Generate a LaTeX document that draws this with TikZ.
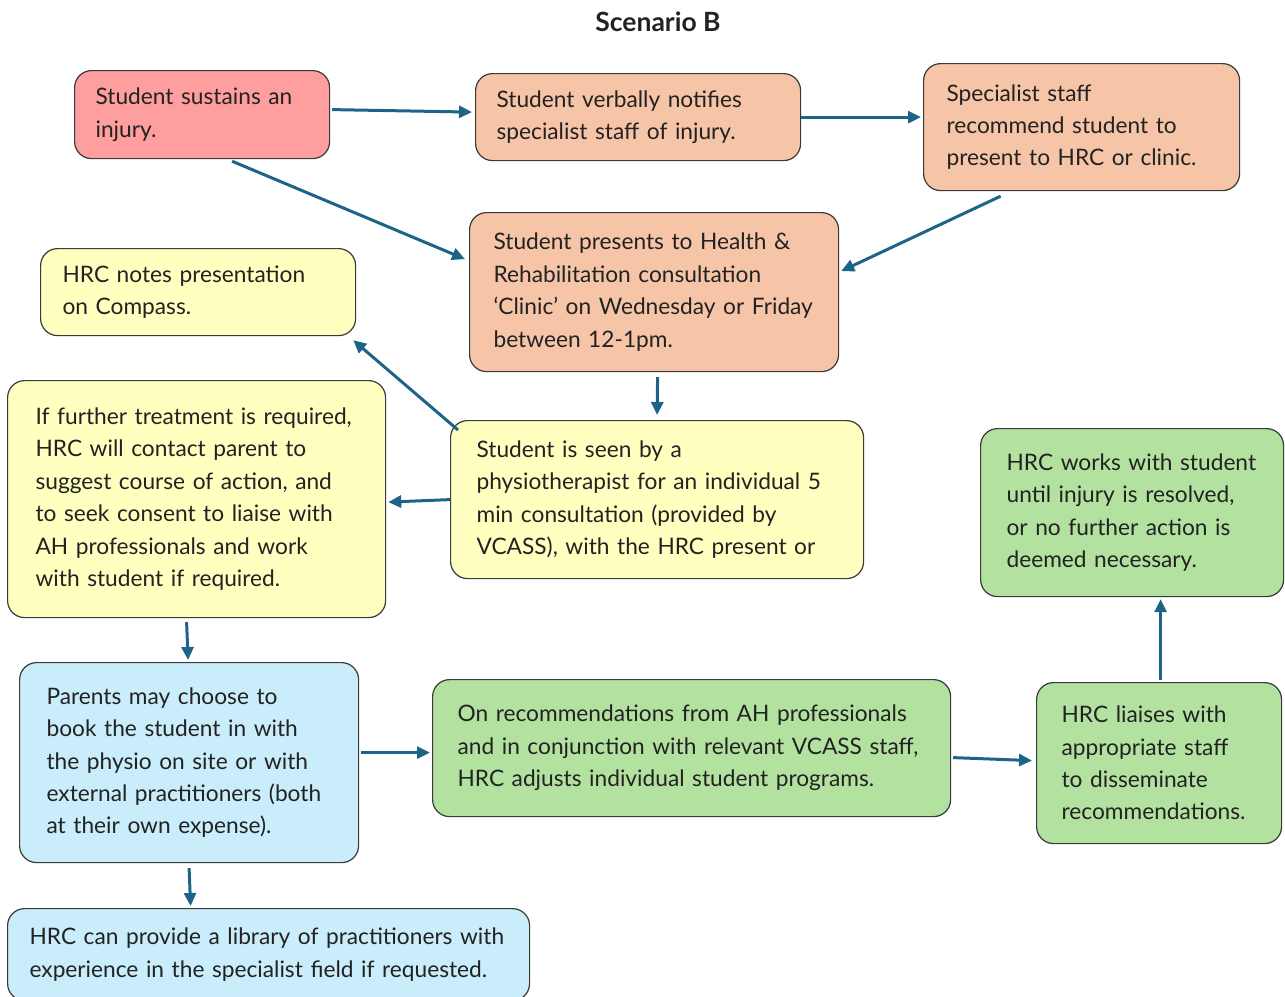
\documentclass[tikz,border=0pt]{standalone}
\usepackage{fontspec}
\setmainfont{Lato}
\usetikzlibrary{arrows.meta}
\definecolor{cred}{HTML}{FF9E9E}
\definecolor{corange}{HTML}{F6C5A7}
\definecolor{cyellow}{HTML}{FFFFC0}
\definecolor{cgreen}{HTML}{B3E2A0}
\definecolor{cblue}{HTML}{C9EDFB}
\definecolor{carrow}{HTML}{1D6488}
\definecolor{cborder}{HTML}{3A3A3A}
\definecolor{ctext}{HTML}{222222}
\tikzset{
  box/.style={draw=cborder, line width=1.2pt, rounded corners=17pt, anchor=north west,
    align=left, text=ctext, inner ysep=0pt,
    font=\fontsize{22.7}{32.4}\selectfont},
  conn/.style={draw=carrow, line width=3pt, -{Triangle[length=13pt,width=12pt]}}
}
\newcommand{\bx}[8]{% name, color, x, y, w, h, pad, text
  \node[box, fill=#2, minimum width=#5pt, minimum height=#6pt, inner xsep=#7pt,
        text width=\dimexpr #5pt - 2\dimexpr #7pt\relax\relax] (#1) at (#3,#4) {#8};}
\begin{document}
\begin{tikzpicture}[x=1pt,y=-1pt]
\useasboundingbox (0,0) rectangle (1285,996);
\node[font=\fontsize{26.5}{30}\selectfont\bfseries, text=ctext] (title) at (658,22) {Scenario B};
\bx{n1}{cred}{74}{70}{255}{88}{21}{Student sustains an\\injury.}
\bx{n2}{corange}{475}{73}{325}{87}{21}{Student verbally notifies\\specialist staff of injury.}
\bx{n3}{corange}{923}{63}{316}{127}{23}{Specialist staff\\recommend student to\\present to HRC or clinic.}
\bx{n4}{corange}{469}{212}{369}{159}{24}{Student presents to Health \&\\Rehabilitation consultation\\‘Clinic’ on Wednesday or Friday\\between 12-1pm.}
\bx{n5}{cyellow}{40}{248}{315}{87}{22}{HRC notes presentation\\on Compass.}
\bx{n6}{cyellow}{7}{380}{378}{237}{28}{If further treatment is required,\\HRC will contact parent to\\suggest course of action, and\\to seek consent to liaise with\\AH professionals and work\\with student if required.}
\bx{n7}{cyellow}{450}{420}{413}{158}{26}{Student is seen by a\\physiotherapist for an individual 5\\min consultation (provided by\\VCASS), with the HRC present or}
\bx{n8}{cgreen}{980}{428}{303}{168}{26}{HRC works with student\\until injury is resolved,\\or no further action is\\deemed necessary.}
\bx{n9}{cblue}{19}{662}{339}{200}{27}{Parents may choose to\\book the student in with\\the physio on site or with\\external practitioners (both\\at their own expense).}
\bx{n10}{cgreen}{432}{679}{518}{137}{25}{On recommendations from AH professionals\\and in conjunction with relevant VCASS staff,\\HRC adjusts individual student programs.}
\bx{n11}{cgreen}{1036}{682}{245}{161}{25}{HRC liaises with\\appropriate staff\\to disseminate\\recommendations.}
\bx{n12}{cblue}{7}{908}{522}{92}{22}{HRC can provide a library of practitioners with\\experience in the specialist field if requested.}
% connectors
\draw[conn] ([xshift=2pt,yshift=5pt]n1.east) -- ([xshift=-3pt,yshift=5pt]n2.west);
\draw[conn] (n2.east) -- ([xshift=-2pt,yshift=10pt]n3.west);
\draw[conn] ([xshift=30pt,yshift=-2pt]n1.south) -- ([xshift=-4pt,yshift=33pt]n4.west);
\draw[conn] ([xshift=-81pt,yshift=-5pt]n3.south) -- ([xshift=2pt,yshift=21pt]n4.east);
\draw[conn] ([xshift=3.5pt,yshift=-5pt]n4.south) -- ([yshift=5pt]n7.north);
\draw[conn] ([xshift=8pt,yshift=-10pt]n7.north west) -- ([xshift=-3pt,yshift=-4pt]n5.south east);
\draw[conn] (n7.west) -- ([xshift=2pt,yshift=-3pt]n6.east);
\draw[conn] ([xshift=-10pt,yshift=-4pt]n6.south) -- ([xshift=-1pt,yshift=2pt]n9.north);
\draw[conn] ([xshift=2pt,yshift=10pt]n9.east) -- ([xshift=-2pt,yshift=-4.5pt]n10.west);
\draw[conn] ([xshift=2pt,yshift=-9.5pt]n10.east) -- ([xshift=-4pt,yshift=2.5pt]n11.west);
\draw[conn] ([xshift=1.5pt,yshift=2pt]n11.north) -- ([xshift=28.5pt,yshift=-2pt]n8.south);
\draw[conn] ([yshift=-5pt]n9.south) -- ([xshift=-78pt,yshift=2pt]n12.north);
\end{tikzpicture}
\end{document}
